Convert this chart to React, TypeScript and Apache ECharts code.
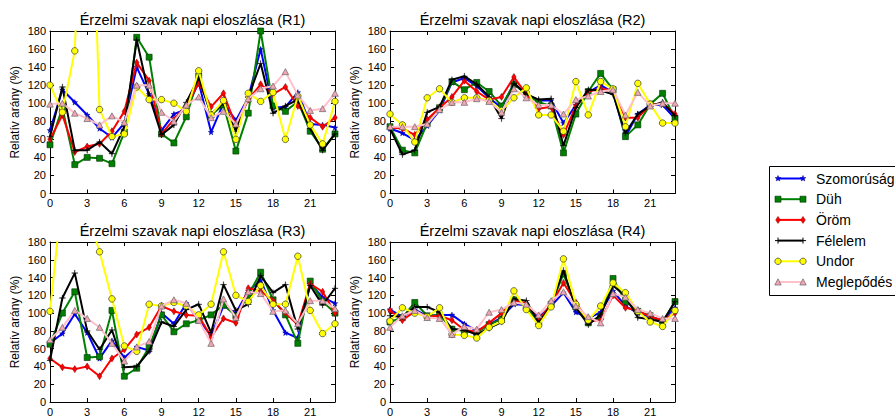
import React, { useEffect, useRef } from "react";
import * as echarts from "echarts";

// ---------------- DATA ----------------
const HOURS = [0, 1, 2, 3, 4, 5, 6, 7, 8, 9, 10, 11, 12, 13, 14, 15, 16, 17, 18, 19, 20, 21, 22, 23];
const EMOTIONS = ["Szomorúság", "Düh", "Öröm", "Félelem", "Undor", "Meglepődés"];
const PANEL_TITLES = [
  "Érzelmi szavak napi eloszlása (R1)",
  "Érzelmi szavak napi eloszlása (R2)",
  "Érzelmi szavak napi eloszlása (R3)",
  "Érzelmi szavak napi eloszlása (R4)",
];
const Y_LABEL = "Relatív arány (%)";

// R1
const R1_SZOMORUSAG = [70, 115, 101, 87, 72, 62, 78, 140, 110, 70, 88, 93, 123, 68, 100, 81, 106, 160, 95, 96, 112, 77, 76, 73];
const R1_DUH = [54, 95, 32, 40, 39, 33, 68, 173, 151, 66, 56, 85, 130, 87, 98, 47, 89, 180, 97, 91, 102, 69, 49, 66];
const R1_OROM = [60, 87, 46, 52, 55, 69, 91, 145, 125, 66, 82, 98, 122, 96, 111, 75, 104, 121, 110, 118, 97, 84, 74, 84];
const R1_FELELEM = [63, 118, 48, 48, 57, 44, 74, 170, 108, 65, 76, 101, 128, 88, 100, 69, 107, 144, 89, 97, 104, 72, 48, 66];
const R1_UNDOR = [120, 90, 158, 500, 93, 63, 66, 118, 104, 104, 100, 91, 136, 87, 103, 60, 111, 102, 112, 60, 108, 76, 55, 102];
const R1_MEGLEPODES = [99, 100, 89, 83, 76, 86, 79, 120, 120, 90, 80, 98, 107, 84, 91, 77, 105, 116, 119, 135, 109, 92, 94, 111];

// R2
const R2_SZOMORUSAG = [72, 67, 59, 75, 92, 123, 128, 119, 106, 95, 122, 110, 103, 103, 78, 98, 112, 120, 112, 63, 88, 98, 98, 83];
const R2_DUH = [74, 48, 45, 78, 95, 124, 115, 123, 113, 97, 121, 110, 101, 97, 45, 88, 113, 133, 115, 63, 76, 99, 111, 83];
const R2_OROM = [73, 72, 65, 82, 95, 107, 125, 113, 104, 107, 129, 110, 94, 96, 65, 97, 113, 116, 114, 84, 84, 98, 100, 88];
const R2_FELELEM = [72, 43, 48, 90, 96, 126, 130, 121, 107, 83, 122, 110, 104, 105, 53, 95, 115, 114, 110, 67, 88, 97, 101, 86];
const R2_UNDOR = [88, 76, 57, 106, 116, 101, 106, 106, 103, 92, 106, 117, 87, 87, 69, 124, 87, 124, 116, 74, 122, 99, 78, 78];
const R2_MEGLEPODES = [74, 74, 74, 77, 93, 101, 101, 105, 102, 90, 116, 106, 98, 98, 88, 104, 108, 113, 115, 87, 112, 97, 100, 100];

// R3
const R3_SZOMORUSAG = [66, 77, 99, 78, 49, 69, 50, 62, 58, 100, 88, 111, 92, 75, 108, 100, 125, 137, 103, 78, 72, 133, 118, 111];
const R3_DUH = [65, 100, 124, 50, 51, 103, 29, 38, 62, 98, 79, 88, 92, 98, 109, 97, 120, 146, 115, 98, 66, 136, 113, 100];
const R3_OROM = [49, 39, 37, 40, 29, 49, 59, 76, 84, 108, 102, 98, 97, 73, 94, 89, 128, 125, 114, 100, 87, 133, 124, 100];
const R3_FELELEM = [47, 117, 145, 80, 59, 81, 39, 40, 57, 90, 85, 104, 110, 78, 132, 103, 110, 142, 123, 132, 82, 131, 109, 128];
const R3_UNDOR = [102, 235, 260, 214, 169, 116, 63, 57, 110, 108, 112, 108, 98, 110, 169, 120, 113, 131, 110, 110, 164, 103, 77, 88];
const R3_MEGLEPODES = [70, 84, 103, 94, 84, 66, 46, 62, 68, 108, 115, 111, 92, 66, 116, 95, 124, 122, 102, 103, 88, 114, 114, 105];

// R4
const R4_SZOMORUSAG = [104, 96, 104, 97, 98, 98, 88, 80, 87, 95, 110, 109, 95, 108, 123, 101, 94, 101, 125, 108, 100, 96, 92, 106];
const R4_DUH = [90, 95, 112, 97, 98, 82, 80, 78, 87, 93, 115, 107, 90, 110, 144, 107, 89, 96, 139, 113, 102, 97, 90, 113];
const R4_OROM = [103, 92, 102, 96, 97, 92, 81, 79, 89, 100, 114, 111, 92, 110, 134, 112, 91, 92, 120, 106, 103, 96, 92, 100];
const R4_FELELEM = [97, 96, 107, 107, 101, 82, 81, 76, 83, 90, 116, 114, 89, 109, 148, 106, 87, 98, 131, 119, 95, 93, 90, 113];
const R4_UNDOR = [91, 106, 100, 96, 106, 76, 75, 72, 84, 91, 125, 104, 86, 107, 161, 110, 92, 108, 134, 123, 102, 90, 85, 103];
const R4_MEGLEPODES = [84, 97, 103, 95, 94, 76, 85, 82, 101, 104, 112, 110, 98, 114, 124, 108, 96, 89, 122, 118, 104, 100, 94, 94];

const PANELS = [
  [R1_SZOMORUSAG, R1_DUH, R1_OROM, R1_FELELEM, R1_UNDOR, R1_MEGLEPODES],
  [R2_SZOMORUSAG, R2_DUH, R2_OROM, R2_FELELEM, R2_UNDOR, R2_MEGLEPODES],
  [R3_SZOMORUSAG, R3_DUH, R3_OROM, R3_FELELEM, R3_UNDOR, R3_MEGLEPODES],
  [R4_SZOMORUSAG, R4_DUH, R4_OROM, R4_FELELEM, R4_UNDOR, R4_MEGLEPODES],
];

// ---------------- STYLE ----------------
const FONT = "'Liberation Sans', Arial, Helvetica, sans-serif";
const GRID_POS = [
  [50, 31],
  [390, 31],
  [50, 242],
  [390, 242],
];
const GRID_W = 285;
const GRID_H = 162.5;

const STAR = "path://M0,-10 L2.35,-3.24 L9.51,-3.09 L3.8,1.24 L5.88,8.09 L0,4 L-5.88,8.09 L-3.8,1.24 L-9.51,-3.09 L-2.35,-3.24 Z";
const PLUS = "path://M-0.5,-6 L0.5,-6 L0.5,-0.5 L6,-0.5 L6,0.5 L0.5,0.5 L0.5,6 L-0.5,6 L-0.5,0.5 L-6,0.5 L-6,-0.5 L-0.5,-0.5 Z";
const THIN_DIAMOND = "path://M0,-10 L6,0 L0,10 L-6,0 Z";

const SERIES_STYLE = [
  { line: "#0000ff", fill: "#0000ff", edge: "#000080", symbol: STAR, size: [5.5, 5.5], bw: 0.5 },
  { line: "#008000", fill: "#008000", edge: "#003000", symbol: "rect", size: [6, 6], bw: 0.6 },
  { line: "#ff0000", fill: "#ff0000", edge: "#800000", symbol: THIN_DIAMOND, size: [4.5, 7], bw: 0.5 },
  { line: "#000000", fill: "#000000", edge: "#000000", symbol: PLUS, size: [6, 6], bw: 0.3 },
  { line: "#ffff00", fill: "#ffff00", edge: "#333333", symbol: "circle", size: [6.5, 6.5], bw: 0.7 },
  { line: "#ffc0cb", fill: "#f2a5b4", edge: "#666666", symbol: "triangle", size: [6.5, 6], bw: 0.7 },
];

function legendGraphic() {
  const left = 769.5;
  const top = 166.5;
  const children: any[] = [
    {
      type: "rect",
      shape: { x: left, y: top, width: 160, height: 129 },
      style: { fill: "#ffffff", stroke: "#000000", lineWidth: 1 },
    },
  ];
  EMOTIONS.forEach((name, i) => {
    const cy = 178.5 + i * 20.7;
    const st = SERIES_STYLE[i];
    const x1 = 778;
    const x2 = 803;
    children.push({
      type: "line",
      shape: { x1, y1: cy, x2, y2: cy },
      style: { stroke: st.line, lineWidth: 2 },
    });
    [x1, x2].forEach((mx) => {
      let m: any;
      if (i === 0) {
        const pts: number[][] = [];
        for (let k = 0; k < 10; k++) {
          const r = k % 2 === 0 ? 3 : 1.3;
          const a = (-90 + k * 36) * (Math.PI / 180);
          pts.push([mx + r * Math.cos(a), cy + r * Math.sin(a)]);
        }
        m = { type: "polygon", shape: { points: pts }, style: { fill: st.fill, stroke: st.edge, lineWidth: 0.5 } };
      } else if (i === 1) {
        m = { type: "rect", shape: { x: mx - 3, y: cy - 3, width: 6, height: 6 }, style: { fill: st.fill, stroke: st.edge, lineWidth: 0.6 } };
      } else if (i === 2) {
        m = { type: "polygon", shape: { points: [[mx, cy - 3.5], [mx + 2.3, cy], [mx, cy + 3.5], [mx - 2.3, cy]] }, style: { fill: st.fill, stroke: st.edge, lineWidth: 0.5 } };
      } else if (i === 3) {
        m = { type: "group", children: [
          { type: "line", shape: { x1: mx - 3, y1: cy, x2: mx + 3, y2: cy }, style: { stroke: "#000", lineWidth: 1 } },
          { type: "line", shape: { x1: mx, y1: cy - 3, x2: mx, y2: cy + 3 }, style: { stroke: "#000", lineWidth: 1 } },
        ] };
      } else if (i === 4) {
        m = { type: "circle", shape: { cx: mx, cy, r: 3.2 }, style: { fill: st.fill, stroke: st.edge, lineWidth: 0.7 } };
      } else {
        m = { type: "polygon", shape: { points: [[mx, cy - 3.2], [mx + 3.2, cy + 3], [mx - 3.2, cy + 3]] }, style: { fill: st.fill, stroke: st.edge, lineWidth: 0.7 } };
      }
      children.push(m);
    });
    children.push({
      type: "text",
      x: 816,
      y: cy,
      style: { text: name, fill: "#000", font: `14px ${FONT}`, verticalAlign: "middle", align: "left" },
    });
  });
  return { type: "group", children };
}

export default function App() {
  const ref = useRef<HTMLDivElement>(null);

  useEffect(() => {
    if (!ref.current) return;
    const chart = echarts.init(ref.current, null, { renderer: "svg" });

    const grid = GRID_POS.map(([l, t]) => ({ left: l, top: t, width: GRID_W, height: GRID_H }));

    const axisCommon = {
      axisLine: { show: true, onZero: false, lineStyle: { color: "#000", width: 1 } },
      axisTick: { show: true, inside: true, length: 4, lineStyle: { color: "#000", width: 1 } },
      splitLine: { show: false },
    };

    const xAxis: any[] = [];
    const yAxis: any[] = [];
    GRID_POS.forEach((_, p) => {
      xAxis.push({
        ...axisCommon,
        type: "value",
        gridIndex: p,
        position: "bottom",
        min: 0,
        max: 23,
        interval: 3,
        axisLabel: { show: true, color: "#000", fontSize: 11, fontFamily: FONT, margin: 4, showMaxLabel: false },
      });
      yAxis.push({
        ...axisCommon,
        type: "value",
        gridIndex: p,
        position: "left",
        min: 0,
        max: 180,
        interval: 20,
        name: Y_LABEL,
        nameLocation: "middle",
        nameRotate: 90,
        nameGap: 29,
        nameTextStyle: { color: "#000", fontSize: 12, fontFamily: FONT },
        axisLabel: { show: true, color: "#000", fontSize: 11, fontFamily: FONT, margin: 4 },
      });
    });
    GRID_POS.forEach((_, p) => {
      xAxis.push({
        ...axisCommon,
        type: "value",
        gridIndex: p,
        position: "top",
        min: 0,
        max: 23,
        interval: 3,
        axisLabel: { show: false },
      });
      yAxis.push({
        ...axisCommon,
        type: "value",
        gridIndex: p,
        position: "right",
        min: 0,
        max: 180,
        interval: 20,
        axisLabel: { show: false },
      });
    });

    const series: any[] = [];
    PANELS.forEach((panel, p) => {
      panel.forEach((vals, e) => {
        const st = SERIES_STYLE[e];
        series.push({
          type: "line",
          name: EMOTIONS[e],
          xAxisIndex: p,
          yAxisIndex: p,
          z: 2 + e,
          clip: true,
          data: HOURS.map((h, i) => [h, vals[i]]),
          symbol: st.symbol,
          symbolSize: st.size,
          showSymbol: true,
          showAllSymbol: true,
          lineStyle: { color: st.line, width: 2 },
          itemStyle: { color: st.fill, borderColor: st.edge, borderWidth: st.bw },
          emphasis: { disabled: true },
        });
      });
    });

    const titles = PANEL_TITLES.map((t, p) => ({
      type: "text",
      x: GRID_POS[p][0] + GRID_W / 2,
      y: GRID_POS[p][1] - 11,
      style: { text: t, fill: "#000", font: `14.5px ${FONT}`, align: "center", verticalAlign: "middle" },
    }));

    chart.setOption({
      animation: false,
      backgroundColor: "#ffffff",
      textStyle: { fontFamily: FONT },
      grid,
      xAxis,
      yAxis,
      series,
      graphic: [...titles, legendGraphic()],
    });

    return () => chart.dispose();
  }, []);

  return (
    <div
      ref={ref}
      style={{ position: "fixed", left: 0, top: 0, width: 895, height: 417, background: "#fff" }}
    />
  );
}
